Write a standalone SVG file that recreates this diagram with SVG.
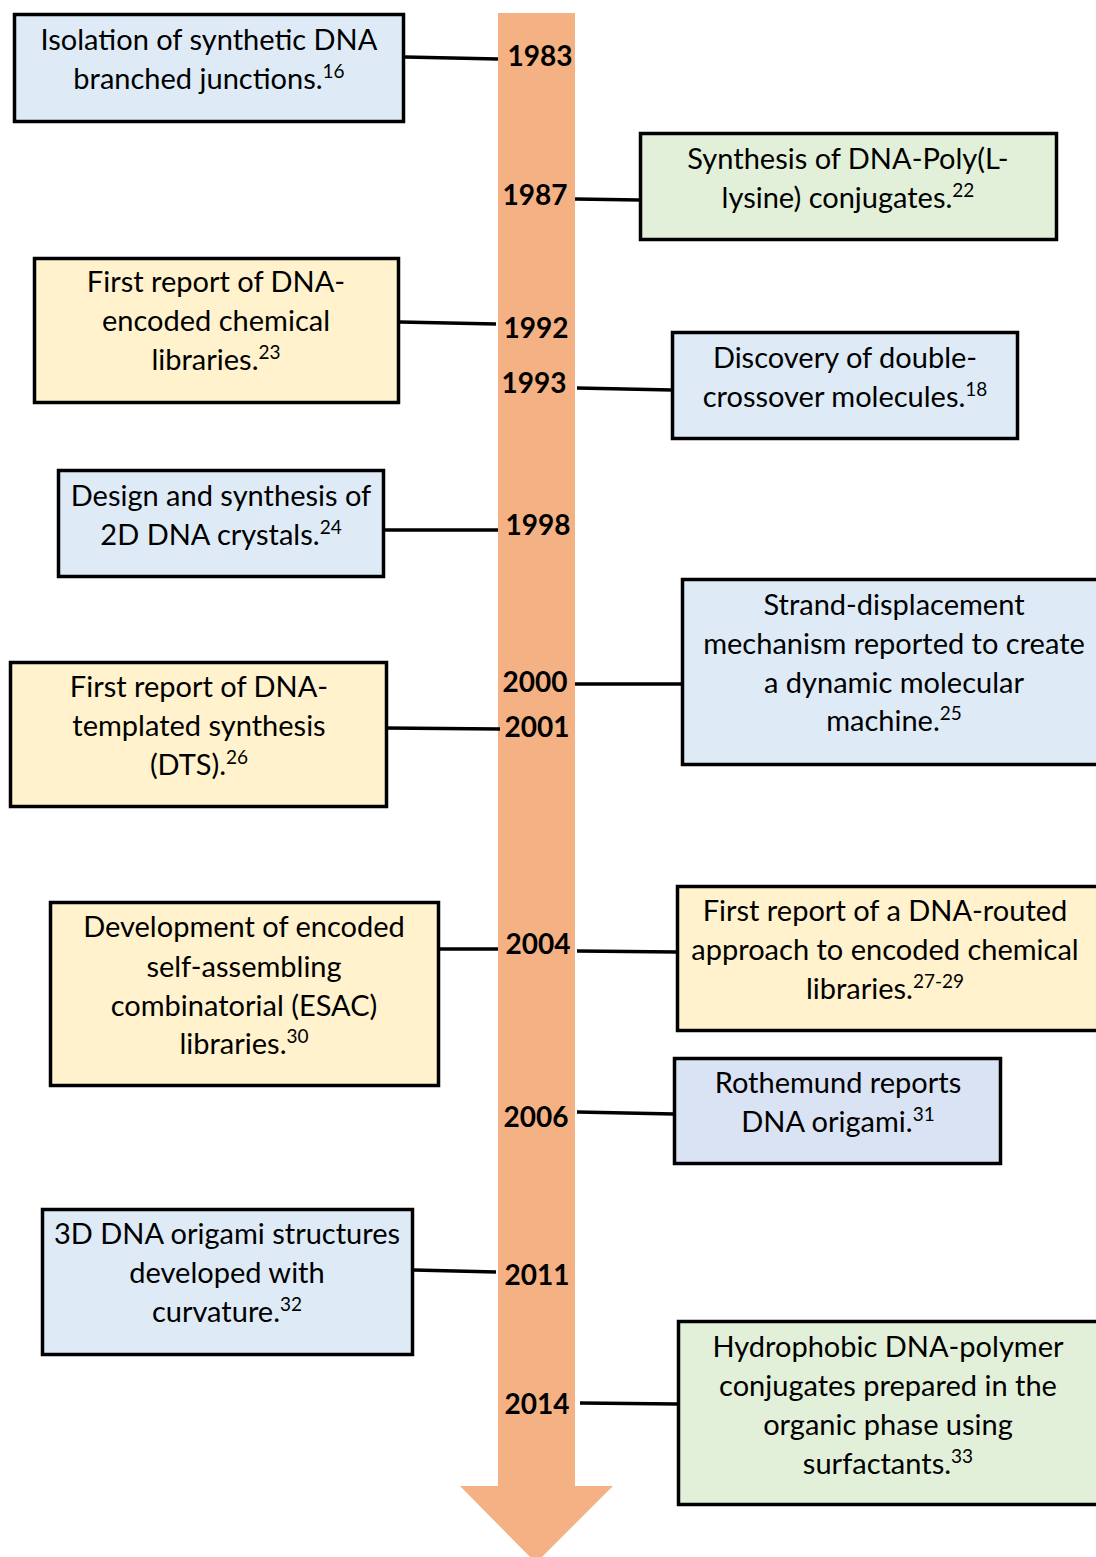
<svg xmlns="http://www.w3.org/2000/svg" width="1096" height="1557" viewBox="0 0 1096 1557">
<style>
.box{stroke:#000;stroke-width:3.5}
.blue{fill:#DEEBF7}
.green{fill:#E2F0D9}
.yellow{fill:#FFF2CC}
.lav{fill:#DAE3F3}
.t{font-family:Lato,"Liberation Sans",sans-serif;font-size:29px;fill:#000;text-anchor:middle}
.sup{font-size:19px}
.yr{font-family:Lato,"Liberation Sans",sans-serif;font-size:28px;font-weight:bold;fill:#000;text-anchor:middle}
.con line{stroke:#000;stroke-width:3.5}
</style>
<rect width="1096" height="1557" fill="#fff"/>
<g id="timeline-arrow">
<polygon points="498,13 575,13 575,1486 613,1486 536,1563 460,1486 498,1486" fill="#F4B183"/>
</g>
<g id="connectors" class="con">
<line x1="405" y1="57" x2="498" y2="59"/>
<line x1="575" y1="199" x2="640" y2="200"/>
<line x1="400" y1="322" x2="496" y2="324"/>
<line x1="577" y1="388" x2="672" y2="390"/>
<line x1="385" y1="530" x2="498" y2="530"/>
<line x1="575" y1="684" x2="682" y2="684"/>
<line x1="385" y1="728" x2="500" y2="729"/>
<line x1="440" y1="949" x2="498" y2="949"/>
<line x1="577" y1="951" x2="677" y2="952"/>
<line x1="577" y1="1112" x2="674" y2="1114"/>
<line x1="414" y1="1270" x2="496" y2="1272"/>
<line x1="580" y1="1403" x2="678" y2="1404"/>
</g>
<g id="years">
<text class="yr" x="540" y="66">1983</text>
<text class="yr" x="535" y="205">1987</text>
<text class="yr" x="536" y="338">1992</text>
<text class="yr" x="534" y="393">1993</text>
<text class="yr" x="538" y="535">1998</text>
<text class="yr" x="535" y="692">2000</text>
<text class="yr" x="537" y="737">2001</text>
<text class="yr" x="538" y="954">2004</text>
<text class="yr" x="536" y="1127">2006</text>
<text class="yr" x="537" y="1285">2011</text>
<text class="yr" x="537" y="1414">2014</text>
</g>
<g id="n1983">
<rect class="box blue" x="14.5" y="14.5" width="389" height="107"/>
<text class="t" x="209" y="50">Isolation of synthetic DNA</text>
<text class="t" x="209" y="89">branched junctions.<tspan class="sup" dy="-11">16</tspan></text>
</g>
<g id="n1987">
<rect class="box green" x="640.5" y="133.5" width="416" height="106"/>
<text class="t" x="848" y="169">Synthesis of DNA-Poly(L-</text>
<text class="t" x="848" y="208">lysine) conjugates.<tspan class="sup" dy="-11">22</tspan></text>
</g>
<g id="n1992">
<rect class="box yellow" x="34.5" y="258.5" width="364" height="144"/>
<text class="t" x="216" y="292">First report of DNA-</text>
<text class="t" x="216" y="331">encoded chemical</text>
<text class="t" x="216" y="370">libraries.<tspan class="sup" dy="-11">23</tspan></text>
</g>
<g id="n1993">
<rect class="box blue" x="672.5" y="332.5" width="345" height="106"/>
<text class="t" x="845" y="368">Discovery of double-</text>
<text class="t" x="845" y="407">crossover molecules.<tspan class="sup" dy="-11">18</tspan></text>
</g>
<g id="n1998">
<rect class="box blue" x="58.5" y="470.5" width="325" height="106"/>
<text class="t" x="221" y="506">Design and synthesis of</text>
<text class="t" x="221" y="545">2D DNA crystals.<tspan class="sup" dy="-11">24</tspan></text>
</g>
<g id="n2000">
<rect class="box blue" x="682.5" y="579.5" width="420" height="185"/>
<text class="t" x="894" y="615">Strand-displacement</text>
<text class="t" x="894" y="654">mechanism reported to create</text>
<text class="t" x="894" y="693">a dynamic molecular</text>
<text class="t" x="894" y="731">machine.<tspan class="sup" dy="-11">25</tspan></text>
</g>
<g id="n2001">
<rect class="box yellow" x="10.5" y="662.5" width="376" height="144"/>
<text class="t" x="199" y="697">First report of DNA-</text>
<text class="t" x="199" y="736">templated synthesis</text>
<text class="t" x="199" y="775">(DTS).<tspan class="sup" dy="-11">26</tspan></text>
</g>
<g id="n2004a">
<rect class="box yellow" x="50.5" y="902.5" width="388" height="183"/>
<text class="t" x="244" y="937">Development of encoded</text>
<text class="t" x="244" y="977">self-assembling</text>
<text class="t" x="244" y="1016">combinatorial (ESAC)</text>
<text class="t" x="244" y="1054">libraries.<tspan class="sup" dy="-11">30</tspan></text>
</g>
<g id="n2004b">
<rect class="box yellow" x="677.5" y="886.5" width="425" height="144"/>
<text class="t" x="885" y="921">First report of a DNA-routed</text>
<text class="t" x="885" y="960">approach to encoded chemical</text>
<text class="t" x="885" y="999">libraries.<tspan class="sup" dy="-11">27-29</tspan></text>
</g>
<g id="n2006">
<rect class="box lav" x="674.5" y="1058.5" width="326" height="105"/>
<text class="t" x="838" y="1093">Rothemund reports</text>
<text class="t" x="838" y="1132">DNA origami.<tspan class="sup" dy="-11">31</tspan></text>
</g>
<g id="n2011">
<rect class="box blue" x="42.5" y="1209.5" width="370" height="145"/>
<text class="t" x="227" y="1244">3D DNA origami structures</text>
<text class="t" x="227" y="1283">developed with</text>
<text class="t" x="227" y="1322">curvature.<tspan class="sup" dy="-11">32</tspan></text>
</g>
<g id="n2014">
<rect class="box green" x="678.5" y="1321.5" width="425" height="183"/>
<text class="t" x="888" y="1357">Hydrophobic DNA-polymer</text>
<text class="t" x="888" y="1396">conjugates prepared in the</text>
<text class="t" x="888" y="1435">organic phase using</text>
<text class="t" x="888" y="1474">surfactants.<tspan class="sup" dy="-11">33</tspan></text>
</g>
</svg>
